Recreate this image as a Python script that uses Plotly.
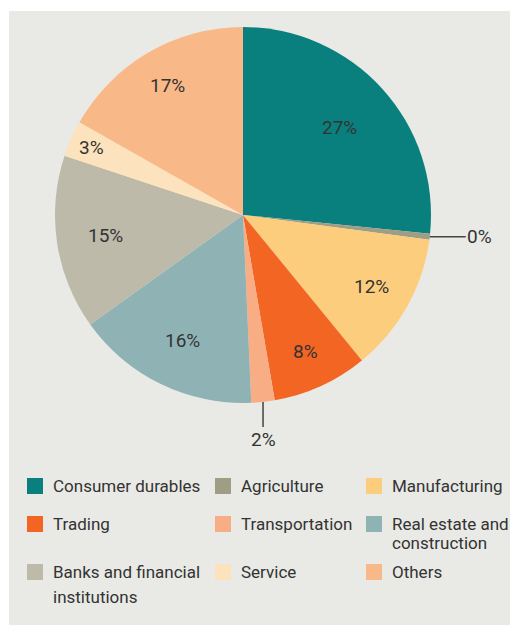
import math
import plotly.graph_objects as go

# sector shares of lending (%), clockwise from 12 o'clock
sectors = ["Consumer durables", "Agriculture", "Manufacturing", "Trading", "Transportation",
           "Real estate and construction", "Banks and financial institutions", "Service", "Others"]
shares = [26.6, 0.5, 12.0, 8.2, 2.0, 15.8, 15.0, 3.1, 16.8]
share_labels = ["27%", "0%", "12%", "8%", "2%", "16%", "15%", "3%", "17%"]
colours = ["#0a807e", "#a09d85", "#fccd7c", "#f26522", "#f8ad85",
           "#8fb3b5", "#bdbaaa", "#fde3bd", "#f9b887"]

# legend layout: rows of (sector index, text lines)
legend_rows = [
    [(0, ["Consumer durables"]), (1, ["Agriculture"]), (2, ["Manufacturing"])],
    [(3, ["Trading"]), (4, ["Transportation"]), (5, ["Real estate and", "construction"])],
    [(6, ["Banks and financial", "institutions"]), (7, ["Service"]), (8, ["Others"])],
]

# page body has an 8px margin, so figure is a bit smaller than the window
OFF = 8
W, H = 518 - OFF, 625 - OFF
FONT = "Roboto, Lato, sans-serif"
FS = 17
TXT = "#333333"
CX, CY, R = 243, 215, 188  # pie centre / radius in window px

# how far out (fraction of radius) each inside label sits; None -> outside label
label_radius = [0.69, None, 0.78, 0.80, None, 0.74, 0.74, 0.88, 0.80]
outside_offset = {1: (50, 0), 4: (0, 38)}


def px2paper(px, py):
    return (px - OFF) / W, 1 - (py - OFF) / H


fig = go.Figure()
dx0, dy1 = px2paper(CX - R, CY - R)
dx1, dy0 = px2paper(CX + R, CY + R)
fig.add_trace(go.Pie(
    labels=sectors,
    values=shares,
    textinfo="none",
    marker=dict(colors=colours, line=dict(width=0)),
    sort=False,
    direction="clockwise",
    rotation=0,
    showlegend=False,
    hoverinfo="label+percent",
    domain=dict(x=[dx0, dx1], y=[dy0, dy1]),
))

# percentage labels at slice mid-angles
total = sum(shares)
cum = 0
for i, v in enumerate(shares):
    mid = (cum + v / 2) / total * 2 * math.pi
    cum += v
    if label_radius[i] is None:
        px = CX + R * math.sin(mid)
        py = CY - R * math.cos(mid)
        ax, ay = outside_offset[i]
        x, y = px2paper(px, py)
        fig.add_annotation(
            x=x, y=y, xref="paper", yref="paper",
            text=share_labels[i], showarrow=True, arrowhead=0, arrowwidth=1.5,
            arrowcolor="#444444", ax=ax, ay=ay, standoff=0,
            font=dict(family=FONT, size=19, color=TXT),
        )
    else:
        rr = R * label_radius[i]
        x, y = px2paper(CX + rr * math.sin(mid), CY - rr * math.cos(mid))
        fig.add_annotation(
            x=x, y=y, xref="paper", yref="paper", showarrow=False,
            xanchor="center", yanchor="middle",
            text=share_labels[i], font=dict(family=FONT, size=19, color=TXT),
        )

# legend: swatches + labels
col_x = [27, 215, 366]
row_y = [486, 524, 572]
line_gap = [19, 19, 25]
for r, row in enumerate(legend_rows):
    for c, (idx, lines) in enumerate(row):
        xa, ya = px2paper(col_x[c], row_y[r] - 8)
        xb, yb = px2paper(col_x[c] + 16, row_y[r] + 8)
        fig.add_shape(type="rect", xref="paper", yref="paper",
                      x0=xa, x1=xb, y0=yb, y1=ya,
                      fillcolor=colours[idx], line=dict(width=0))
        for k, line in enumerate(lines):
            tx, ty = px2paper(col_x[c] + 24, row_y[r] + k * line_gap[r])
            fig.add_annotation(
                x=tx, y=ty, xref="paper", yref="paper", xanchor="left", yanchor="middle",
                text=line, showarrow=False,
                font=dict(family=FONT, size=FS, color=TXT),
            )

# grey panel behind the chart
px0, py1 = px2paper(9, 11)
fig.add_shape(type="rect", xref="paper", yref="paper", layer="below",
              x0=px0, x1=1.02, y0=-0.02, y1=py1,
              fillcolor="#e9eae5", line=dict(width=0))

fig.update_layout(
    width=W, height=H,
    margin=dict(l=0, r=0, t=0, b=0),
    paper_bgcolor="white",
    plot_bgcolor="white",
)

fig.write_html("out.html")
